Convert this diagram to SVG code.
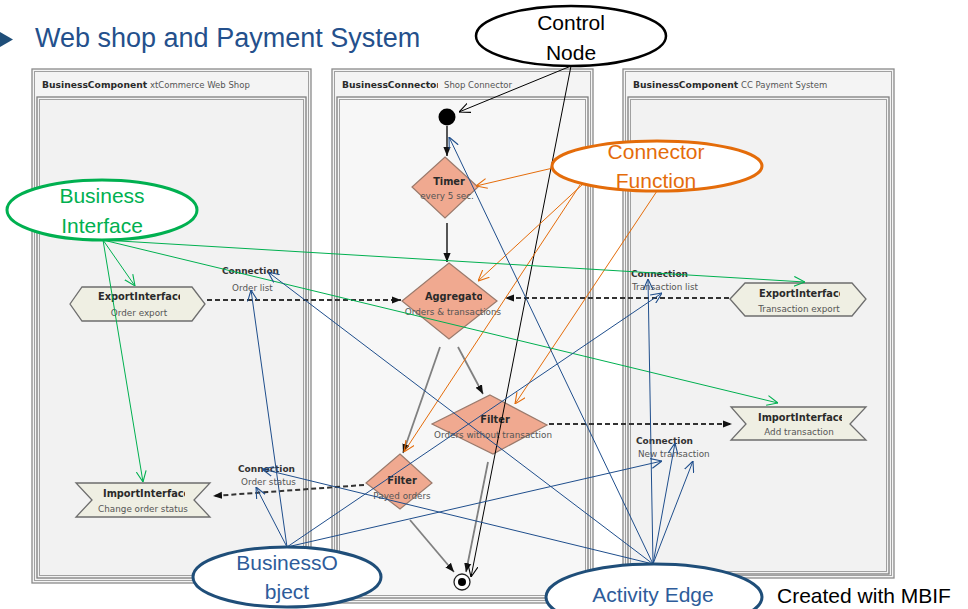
<svg xmlns="http://www.w3.org/2000/svg" width="968" height="609" viewBox="0 0 968 609">
  <style>
    .lane-outer { fill: #F4F4F4; stroke: #8A8A8A; stroke-width: 1.3; }
    .lane-line { fill: none; stroke: #A0A0A0; stroke-width: 1; }
    .lane-inner { fill: #F2F2F2; stroke: #7F7F7F; stroke-width: 1.3; }
    .lane-inner-c { fill: #F7F7F7; stroke: #7F7F7F; stroke-width: 1.3; }
    .hdr-b { font-family: "DejaVu Sans", Verdana, sans-serif; font-size: 9.2px; font-weight: bold; fill: #2A2A2A; }
    .hdr { font-family: "DejaVu Sans", Verdana, sans-serif; font-size: 8.5px; fill: #555555; }
    .lbl-b { font-family: "DejaVu Sans", Verdana, sans-serif; font-size: 9.8px; font-weight: bold; fill: #2A2A2A; }
    .lbl { font-family: "DejaVu Sans", Verdana, sans-serif; font-size: 8.8px; fill: #555555; }
    .con-b { font-family: "DejaVu Sans", Verdana, sans-serif; font-size: 9px; font-weight: bold; fill: #333333; }
    .diamond { fill: #F0A990; stroke: #9A7A6C; stroke-width: 1.2; }
    .iface { fill: #EFEFE3; stroke: #6E6E6E; stroke-width: 1.3; }
    .flow { fill: none; stroke: #111111; stroke-width: 1.4; marker-end: url(#solid); }
    .flow-g { fill: none; stroke: #808080; stroke-width: 1.8; marker-end: url(#solid); }
    .dash { fill: none; stroke: #333333; stroke-width: 2; stroke-dasharray: 5 3; marker-end: url(#solid); }
    .a-black { fill: none; stroke: #000000; stroke-width: 1; marker-end: url(#openK); }
    .a-orange { fill: none; stroke: #E46C0A; stroke-width: 1; marker-end: url(#openO); }
    .a-green { fill: none; stroke: #00B050; stroke-width: 1; marker-end: url(#openG); }
    .a-blue { fill: none; stroke: #1F4E8C; stroke-width: 1; marker-end: url(#openB); }
    .note { font-family: "Liberation Sans", Arial, sans-serif; font-size: 21px; text-anchor: middle; }
  </style>
  <defs>
    <marker id="solid" viewBox="0 0 10 10" refX="10" refY="5" markerWidth="9" markerHeight="9" markerUnits="userSpaceOnUse" orient="auto">
      <path d="M0,1 L10,5 L0,9 Z" fill="#111111"/>
    </marker>
    <marker id="openK" viewBox="0 0 10 10" refX="10" refY="5" markerWidth="11" markerHeight="11" markerUnits="userSpaceOnUse" orient="auto">
      <path d="M0,0.5 L10,5 L0,9.5" fill="none" stroke="#000000" stroke-width="1"/>
    </marker>
    <marker id="openO" viewBox="0 0 10 10" refX="10" refY="5" markerWidth="11" markerHeight="11" markerUnits="userSpaceOnUse" orient="auto">
      <path d="M0,0.5 L10,5 L0,9.5" fill="none" stroke="#E46C0A" stroke-width="1"/>
    </marker>
    <marker id="openG" viewBox="0 0 10 10" refX="10" refY="5" markerWidth="11" markerHeight="11" markerUnits="userSpaceOnUse" orient="auto">
      <path d="M0,0.5 L10,5 L0,9.5" fill="none" stroke="#00B050" stroke-width="1"/>
    </marker>
    <marker id="openB" viewBox="0 0 10 10" refX="10" refY="5" markerWidth="11" markerHeight="11" markerUnits="userSpaceOnUse" orient="auto">
      <path d="M0,0.5 L10,5 L0,9.5" fill="none" stroke="#1F4E8C" stroke-width="1"/>
    </marker>
    <clipPath id="clipHdr2"><rect x="330" y="70" width="108" height="25"/></clipPath>
    <clipPath id="clipAgg"><rect x="400" y="285" width="82" height="20"/></clipPath>
    <clipPath id="clipExp1"><rect x="90" y="285" width="90" height="20"/></clipPath>
    <clipPath id="clipImp1"><rect x="95" y="483" width="90" height="20"/></clipPath>
    <clipPath id="clipExp2"><rect x="750" y="282" width="90" height="20"/></clipPath>
    <clipPath id="clipImp2"><rect x="750" y="406" width="92" height="20"/></clipPath>
  </defs>

  <!-- page title -->
  <g id="title">
    <path d="M0,32 L13,39.5 L0,47 Z" fill="#1F4E79"/>
    <text x="35" y="47" font-family="Liberation Sans, Arial, sans-serif" font-size="27px" fill="#24508C">Web shop and Payment System</text>
  </g>

  <!-- swimlanes -->
  <g id="lane-webshop">
    <rect class="lane-outer" x="32" y="69" width="279" height="514"/>
    <rect class="lane-line" x="34.5" y="71.5" width="274" height="509"/>
    <text x="42" y="88" class="hdr-b">BusinessComponent</text>
    <text x="150" y="88" class="hdr">xtCommerce Web Shop</text>
    <rect class="lane-inner" x="37" y="97" width="269" height="481"/>
    <rect class="lane-line" x="39.5" y="99.5" width="264" height="476"/>
  </g>
  <g id="lane-connector">
    <rect class="lane-outer" x="332" y="69" width="261" height="534"/>
    <rect class="lane-line" x="334.5" y="71.5" width="256" height="529"/>
    <text x="342" y="88" class="hdr-b" clip-path="url(#clipHdr2)">BusinessConnector</text>
    <text x="444" y="88" class="hdr">Shop Connector</text>
    <rect class="lane-inner-c" x="337" y="97" width="251" height="501"/>
    <rect class="lane-line" x="339.5" y="99.5" width="246" height="496"/>
  </g>
  <g id="lane-payment">
    <rect class="lane-outer" x="623" y="69" width="271" height="509"/>
    <rect class="lane-line" x="625.5" y="71.5" width="266" height="504"/>
    <text x="633" y="88" class="hdr-b">BusinessComponent</text>
    <text x="741" y="88" class="hdr">CC Payment System</text>
    <rect class="lane-inner" x="628" y="97" width="261" height="477"/>
    <rect class="lane-line" x="630.5" y="99.5" width="256" height="472"/>
  </g>

  <!-- activity nodes -->
  <g id="initial-node">
    <circle cx="447" cy="117" r="8.5" fill="#000000"/>
  </g>
  <g id="timer">
    <polygon class="diamond" points="445,157 478,187 445,218 412,187"/>
    <text x="449" y="185" class="lbl-b" text-anchor="middle">Timer</text>
    <text x="447" y="199" class="lbl" text-anchor="middle">every 5 sec.</text>
  </g>
  <g id="aggregator">
    <polygon class="diamond" points="449,263 497,301 449,339 402,301"/>
    <text x="425" y="300" class="lbl-b" clip-path="url(#clipAgg)">Aggregator</text>
    <text x="453" y="315" class="lbl" text-anchor="middle">Orders &amp; transactions</text>
  </g>
  <g id="filter-open">
    <polygon class="diamond" points="490,395 547,425 493,454 432,424"/>
    <text x="495" y="423" class="lbl-b" text-anchor="middle">Filter</text>
    <text x="493" y="438" class="lbl" text-anchor="middle">Orders without transaction</text>
  </g>
  <g id="filter-payed">
    <polygon class="diamond" points="400,454 432,483 400,509 366,483"/>
    <text x="402" y="484" class="lbl-b" text-anchor="middle">Filter</text>
    <text x="402" y="499" class="lbl" text-anchor="middle">Payed orders</text>
  </g>
  <g id="final-node">
    <circle cx="462" cy="582" r="8" fill="#FFFFFF" stroke="#222222" stroke-width="1.3"/>
    <circle cx="462" cy="582" r="4" fill="#000000"/>
  </g>

  <!-- interfaces -->
  <g id="export-order">
    <polygon class="iface" points="70,304 82,287 192,287 205,304 192,321 82,321"/>
    <text x="98" y="300" class="lbl-b" clip-path="url(#clipExp1)">ExportInterface</text>
    <text x="139" y="316" class="lbl" text-anchor="middle">Order export</text>
  </g>
  <g id="import-status">
    <polygon class="iface" points="76,483 210,483 194,500 210,517 76,517 92,500"/>
    <text x="103" y="497" class="lbl-b" clip-path="url(#clipImp1)">ImportInterface</text>
    <text x="143" y="512" class="lbl" text-anchor="middle">Change order status</text>
  </g>
  <g id="export-transaction">
    <polygon class="iface" points="730,299 745,283 852,283 866,299 852,316 745,316"/>
    <text x="759" y="297" class="lbl-b" clip-path="url(#clipExp2)">ExportInterface</text>
    <text x="799" y="312" class="lbl" text-anchor="middle">Transaction export</text>
  </g>
  <g id="import-transaction">
    <polygon class="iface" points="731,407 866,407 850,424 866,440 731,440 746,424"/>
    <text x="758" y="421" class="lbl-b" clip-path="url(#clipImp2)">ImportInterface</text>
    <text x="799" y="435" class="lbl" text-anchor="middle">Add transaction</text>
  </g>

  <!-- connection labels -->
  <g id="conn-order-list">
    <text x="222" y="274" class="con-b">Connection</text>
    <text x="232" y="291" class="lbl">Order list</text>
  </g>
  <g id="conn-transaction-list">
    <text x="631" y="277" class="con-b">Connection</text>
    <text x="632" y="290" class="lbl">Transaction list</text>
  </g>
  <g id="conn-new-transaction">
    <text x="636" y="444" class="con-b">Connection</text>
    <text x="638" y="457" class="lbl">New transaction</text>
  </g>
  <g id="conn-order-status">
    <text x="238" y="472" class="con-b">Connection</text>
    <text x="241" y="485" class="lbl">Order status</text>
  </g>

  <!-- control flow and data connections -->
  <g id="flows">
    <line class="flow" x1="447" y1="126" x2="447" y2="156"/>
    <line class="flow" x1="447" y1="223" x2="447" y2="262"/>
    <line class="flow-g" x1="440" y1="347" x2="403" y2="453"/>
    <line class="flow-g" x1="458" y1="347" x2="483" y2="394"/>
    <line class="flow-g" x1="410" y1="520" x2="454" y2="572"/>
    <line class="flow-g" x1="488" y1="462" x2="466" y2="572"/>
    <line class="dash" x1="207" y1="300" x2="401" y2="300"/>
    <line class="dash" x1="729" y1="298" x2="505" y2="298"/>
    <line class="dash" x1="549" y1="424" x2="732" y2="424"/>
    <line class="dash" x1="364" y1="485" x2="213" y2="496"/>
  </g>

  <!-- annotation pointers -->
  <g id="pointers">
    <line class="a-black" x1="571" y1="66" x2="459" y2="112"/>
    <line class="a-black" x1="571" y1="66" x2="471" y2="577"/>

    <line class="a-orange" x1="553" y1="168" x2="476" y2="186"/>
    <line class="a-orange" x1="583" y1="184" x2="478" y2="281"/>
    <line class="a-orange" x1="580" y1="185" x2="404" y2="452"/>
    <line class="a-orange" x1="657" y1="191" x2="515" y2="404"/>

    <line class="a-green" x1="103" y1="240" x2="135" y2="286"/>
    <line class="a-green" x1="103" y1="240" x2="143" y2="482"/>
    <line class="a-green" x1="103" y1="240" x2="805" y2="282"/>
    <line class="a-green" x1="103" y1="240" x2="778" y2="403"/>

    <line class="a-blue" x1="287" y1="547" x2="251" y2="290"/>
    <line class="a-blue" x1="287" y1="547" x2="256" y2="487"/>
    <line class="a-blue" x1="287" y1="547" x2="662" y2="293"/>
    <line class="a-blue" x1="287" y1="547" x2="662" y2="461"/>

    <line class="a-blue" x1="653" y1="564" x2="449" y2="137"/>
    <line class="a-blue" x1="653" y1="564" x2="268" y2="272"/>
    <line class="a-blue" x1="653" y1="564" x2="262" y2="469"/>
    <line class="a-blue" x1="653" y1="564" x2="648" y2="279"/>
    <line class="a-blue" x1="653" y1="564" x2="675" y2="443"/>
    <line class="a-blue" x1="653" y1="564" x2="693" y2="461"/>
  </g>

  <!-- annotation bubbles -->
  <g id="control-node">
    <ellipse cx="571" cy="36" rx="95" ry="30" fill="#FFFFFF" stroke="#000000" stroke-width="2.5"/>
    <text x="571" y="30" class="note" font-size="20px" fill="#000000">Control</text>
    <text x="571" y="60" class="note" font-size="20px" fill="#000000">Node</text>
  </g>
  <g id="connector-function">
    <ellipse cx="657" cy="166" rx="105" ry="25" fill="#FFFFFF" stroke="#E46C0A" stroke-width="3"/>
    <text x="656" y="159" class="note" fill="#E46C0A">Connector</text>
    <text x="656" y="188" class="note" fill="#E46C0A">Function</text>
  </g>
  <g id="business-interface">
    <ellipse cx="102" cy="210" rx="95" ry="30" fill="#FFFFFF" stroke="#00B050" stroke-width="3"/>
    <text x="102" y="203" class="note" fill="#00B050">Business</text>
    <text x="102" y="233" class="note" fill="#00B050">Interface</text>
  </g>
  <g id="business-object">
    <ellipse cx="287" cy="577" rx="94" ry="30" fill="#FFFFFF" stroke="#1F4E79" stroke-width="3"/>
    <text x="287" y="570" class="note" fill="#2E5C9A">BusinessO</text>
    <text x="287" y="599" class="note" fill="#2E5C9A">bject</text>
  </g>
  <g id="activity-edge">
    <ellipse cx="654" cy="597" rx="108" ry="33" fill="#FFFFFF" stroke="#1F4E79" stroke-width="3"/>
    <text x="653" y="602" class="note" font-size="22px" fill="#2E5C9A">Activity Edge</text>
  </g>
  <text x="777" y="603" font-family="Liberation Sans, Arial, sans-serif" font-size="21px" fill="#000000">Created with MBIF</text>
</svg>
